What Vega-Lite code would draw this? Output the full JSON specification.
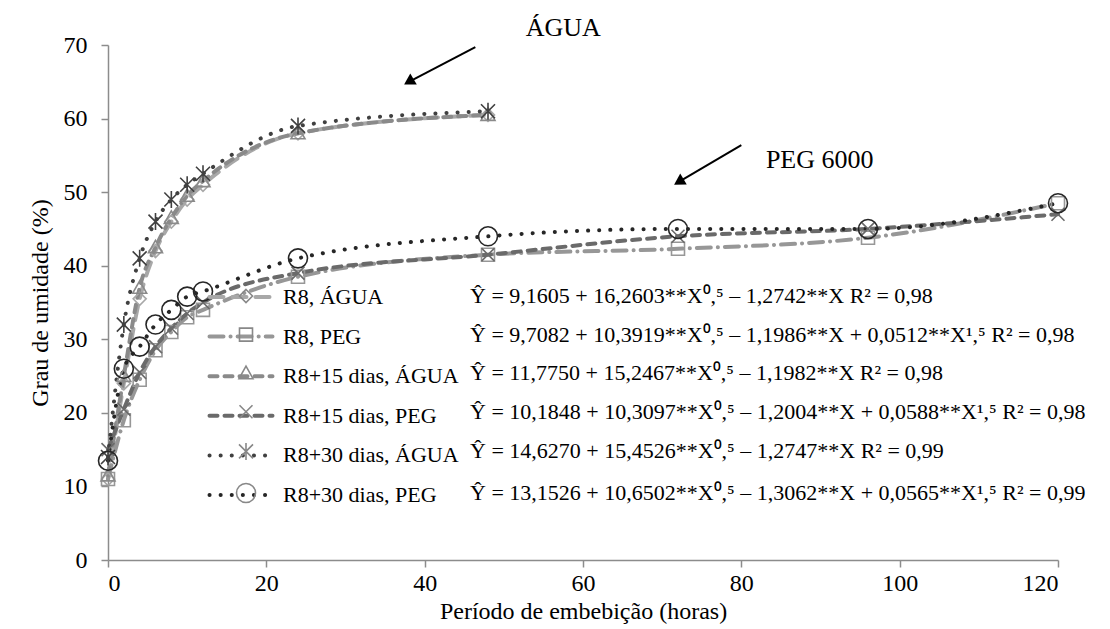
{
  "$schema": "https://vega.github.io/schema/vega-lite/v6.json",
  "width": 950,
  "height": 515,
  "autosize": {"type": "none"},
  "padding": {"left": 108, "top": 45, "right": 52, "bottom": 69},
  "background": "white",
  "config": {
    "view": {"stroke": null},
    "font": "Liberation Serif",
    "legend": {"padding": 0}
  },
  "datasets": {
    "medidas": [
      {"serie": "R8, ÁGUA", "horas": 0, "umidade": 11.0},
      {"serie": "R8, ÁGUA", "horas": 2, "umidade": 24.0},
      {"serie": "R8, ÁGUA", "horas": 4, "umidade": 35.5},
      {"serie": "R8, ÁGUA", "horas": 6, "umidade": 42.0},
      {"serie": "R8, ÁGUA", "horas": 8, "umidade": 46.0},
      {"serie": "R8, ÁGUA", "horas": 10, "umidade": 49.0},
      {"serie": "R8, ÁGUA", "horas": 12, "umidade": 51.0},
      {"serie": "R8, ÁGUA", "horas": 24, "umidade": 58.0},
      {"serie": "R8, ÁGUA", "horas": 48, "umidade": 60.5},
      {"serie": "R8, PEG", "horas": 0, "umidade": 11.0},
      {"serie": "R8, PEG", "horas": 2, "umidade": 19.0},
      {"serie": "R8, PEG", "horas": 4, "umidade": 24.5},
      {"serie": "R8, PEG", "horas": 6, "umidade": 28.5},
      {"serie": "R8, PEG", "horas": 8, "umidade": 31.0},
      {"serie": "R8, PEG", "horas": 10, "umidade": 33.0},
      {"serie": "R8, PEG", "horas": 12, "umidade": 34.0},
      {"serie": "R8, PEG", "horas": 24, "umidade": 38.5},
      {"serie": "R8, PEG", "horas": 48, "umidade": 41.5},
      {"serie": "R8, PEG", "horas": 72, "umidade": 42.3},
      {"serie": "R8, PEG", "horas": 96, "umidade": 43.8},
      {"serie": "R8, PEG", "horas": 120, "umidade": 48.5},
      {"serie": "R8+15 dias, ÁGUA", "horas": 0, "umidade": 11.5},
      {"serie": "R8+15 dias, ÁGUA", "horas": 2, "umidade": 25.0},
      {"serie": "R8+15 dias, ÁGUA", "horas": 4, "umidade": 37.0},
      {"serie": "R8+15 dias, ÁGUA", "horas": 6, "umidade": 42.5},
      {"serie": "R8+15 dias, ÁGUA", "horas": 8, "umidade": 46.5},
      {"serie": "R8+15 dias, ÁGUA", "horas": 10, "umidade": 49.5},
      {"serie": "R8+15 dias, ÁGUA", "horas": 12, "umidade": 51.5},
      {"serie": "R8+15 dias, ÁGUA", "horas": 24, "umidade": 58.0},
      {"serie": "R8+15 dias, ÁGUA", "horas": 48, "umidade": 60.5},
      {"serie": "R8+15 dias, PEG", "horas": 0, "umidade": 15.0},
      {"serie": "R8+15 dias, PEG", "horas": 2, "umidade": 20.5},
      {"serie": "R8+15 dias, PEG", "horas": 4, "umidade": 25.5},
      {"serie": "R8+15 dias, PEG", "horas": 6, "umidade": 29.0},
      {"serie": "R8+15 dias, PEG", "horas": 8, "umidade": 31.5},
      {"serie": "R8+15 dias, PEG", "horas": 10, "umidade": 33.5},
      {"serie": "R8+15 dias, PEG", "horas": 12, "umidade": 35.0},
      {"serie": "R8+15 dias, PEG", "horas": 24, "umidade": 39.0},
      {"serie": "R8+15 dias, PEG", "horas": 48, "umidade": 41.5},
      {"serie": "R8+15 dias, PEG", "horas": 72, "umidade": 44.0},
      {"serie": "R8+15 dias, PEG", "horas": 96, "umidade": 45.0},
      {"serie": "R8+15 dias, PEG", "horas": 120, "umidade": 47.0},
      {"serie": "R8+30 dias, ÁGUA", "horas": 0, "umidade": 14.0},
      {"serie": "R8+30 dias, ÁGUA", "horas": 2, "umidade": 32.0},
      {"serie": "R8+30 dias, ÁGUA", "horas": 4, "umidade": 41.0},
      {"serie": "R8+30 dias, ÁGUA", "horas": 6, "umidade": 46.0},
      {"serie": "R8+30 dias, ÁGUA", "horas": 8, "umidade": 49.0},
      {"serie": "R8+30 dias, ÁGUA", "horas": 10, "umidade": 51.0},
      {"serie": "R8+30 dias, ÁGUA", "horas": 12, "umidade": 52.5},
      {"serie": "R8+30 dias, ÁGUA", "horas": 24, "umidade": 59.0},
      {"serie": "R8+30 dias, ÁGUA", "horas": 48, "umidade": 61.0},
      {"serie": "R8+30 dias, PEG", "horas": 0, "umidade": 13.5},
      {"serie": "R8+30 dias, PEG", "horas": 2, "umidade": 26.0},
      {"serie": "R8+30 dias, PEG", "horas": 4, "umidade": 29.0},
      {"serie": "R8+30 dias, PEG", "horas": 6, "umidade": 32.0},
      {"serie": "R8+30 dias, PEG", "horas": 8, "umidade": 34.0},
      {"serie": "R8+30 dias, PEG", "horas": 10, "umidade": 35.8},
      {"serie": "R8+30 dias, PEG", "horas": 12, "umidade": 36.5},
      {"serie": "R8+30 dias, PEG", "horas": 24, "umidade": 41.0},
      {"serie": "R8+30 dias, PEG", "horas": 48, "umidade": 44.0},
      {"serie": "R8+30 dias, PEG", "horas": 72, "umidade": 45.0},
      {"serie": "R8+30 dias, PEG", "horas": 96, "umidade": 45.0},
      {"serie": "R8+30 dias, PEG", "horas": 120, "umidade": 48.5}
    ],
    "anotacoes": [
      {"texto": "ÁGUA", "x": 57.5, "y": 72.3},
      {"texto": "PEG 6000", "x": 89.9, "y": 54.4}
    ],
    "setas": [
      {"x0": 46.4, "y0": 69.7, "x1": 38.0, "y1": 65.0},
      {"x0": 80.0, "y0": 56.4, "x1": 72.1, "y1": 51.4}
    ]
  },
  "layer": [
    {
      "data": {"name": "medidas"},
      "mark": {"type": "line", "interpolate": "monotone", "strokeWidth": 4, "strokeCap": "round"},
      "encoding": {
        "x": {"field": "horas", "type": "quantitative", "scale": {"domain": [0, 120], "nice": false},
              "axis": {"values": [0, 20, 40, 60, 80, 100, 120], "grid": false,
                       "domainColor": "#8c8c8c", "domainWidth": 1.5, "tickColor": "#8c8c8c", "tickWidth": 1.5, "tickSize": 7,
                       "labelFont": "Liberation Serif", "labelFontSize": 24, "labelColor": "black", "labelPadding": 4,
                       "titleFont": "Liberation Serif", "titleFontSize": 24, "titleFontWeight": "normal", "titleColor": "black", "titlePadding": 4},
              "title": "Período de embebição (horas)"},
        "y": {"field": "umidade", "type": "quantitative", "scale": {"domain": [0, 70], "nice": false},
              "axis": {"values": [0, 10, 20, 30, 40, 50, 60, 70], "grid": false,
                       "domainColor": "#8c8c8c", "domainWidth": 1.5, "tickColor": "#8c8c8c", "tickWidth": 1.5, "tickSize": 7,
                       "labelFont": "Liberation Serif", "labelFontSize": 24, "labelColor": "black", "labelPadding": 14,
                       "titleFont": "Liberation Serif", "titleFontSize": 24, "titleFontWeight": "normal", "titleColor": "black", "titlePadding": 11},
              "title": "Grau de umidade (%)"},
        "stroke": {"field": "serie", "type": "nominal",
                   "scale": {"domain": ["R8, ÁGUA", "R8, PEG", "R8+15 dias, ÁGUA", "R8+15 dias, PEG", "R8+30 dias, ÁGUA", "R8+30 dias, PEG"],
                             "range": ["#a8a8a8", "#979797", "#8a8a8a", "#6a6a6a", "#404040", "#262626"]},
                   "legend": {
                         "title": null,
                         "orient": "none",
                         "legendX": 121,
                         "legendY": 240,
                         "symbolType": "M-3.15,0L3.15,0",
                         "symbolSize": 400,
                         "symbolStrokeWidth": 4,
                         "labelOffset": 30,
                         "labelFont": "Liberation Serif",
                         "labelFontSize": 22,
                         "labelColor": "black",
                         "labelLimit": 0,
                         "rowPadding": 16.6
                       }},
        "strokeDash": {"field": "serie", "type": "nominal",
                       "scale": {"domain": ["R8, ÁGUA", "R8, PEG", "R8+15 dias, ÁGUA", "R8+15 dias, PEG", "R8+30 dias, ÁGUA", "R8+30 dias, PEG"],
                                 "range": [[14, 9], [14, 7, 0.1, 7], [8, 7], [8, 7], [0.1, 11], [0.1, 11]]},
                       "legend": {
                         "title": null,
                         "orient": "none",
                         "legendX": 121,
                         "legendY": 240,
                         "symbolType": "M-3.15,0L3.15,0",
                         "symbolSize": 400,
                         "symbolStrokeWidth": 4,
                         "labelOffset": 30,
                         "labelFont": "Liberation Serif",
                         "labelFontSize": 22,
                         "labelColor": "black",
                         "labelLimit": 0,
                         "rowPadding": 16.6,
                         "encode": {"symbols": {"update": {"strokeCap": {"value": "round"}}}}
                       }}
      }
    },
    {
      "data": {"name": "medidas"},
      "transform": [
        {"lookup": "serie",
         "from": {"data": {"values": [
           {"serie": "R8, ÁGUA", "ordem": 1, "equacao": "Ŷ = 9,1605 + 16,2603**X⁰,⁵ – 1,2742**X  R² = 0,98"},
           {"serie": "R8, PEG", "ordem": 2, "equacao": "Ŷ = 9,7082 + 10,3919**X⁰,⁵ – 1,1986**X + 0,0512**X¹,⁵ R² = 0,98"},
           {"serie": "R8+15 dias, ÁGUA", "ordem": 3, "equacao": "Ŷ = 11,7750 + 15,2467**X⁰,⁵ – 1,1982**X  R² = 0,98"},
           {"serie": "R8+15 dias, PEG", "ordem": 4, "equacao": "Ŷ = 10,1848 + 10,3097**X⁰,⁵ – 1,2004**X + 0,0588**X¹,⁵  R² = 0,98"},
           {"serie": "R8+30 dias, ÁGUA", "ordem": 5, "equacao": "Ŷ = 14,6270 + 15,4526**X⁰,⁵ – 1,2747**X   R² = 0,99"},
           {"serie": "R8+30 dias, PEG", "ordem": 6, "equacao": "Ŷ = 13,1526 + 10,6502**X⁰,⁵ – 1,3062**X + 0,0565**X¹,⁵   R² = 0,99"}
         ]}, "key": "serie", "fields": ["ordem", "equacao"]}}
      ],
      "mark": {"type": "point", "filled": false, "size": 100, "strokeWidth": 1.6, "opacity": 1},
      "encoding": {
        "x": {"field": "horas", "type": "quantitative"},
        "y": {"field": "umidade", "type": "quantitative"},
        "stroke": {"field": "serie", "type": "nominal"},
        "shape": {"field": "equacao", "type": "nominal", "sort": {"field": "ordem", "op": "min"},
                  "scale": {"range": [
                    "M0,-1.3L1.3,0L0,1.3L-1.3,0Z",
                    "M-1.3,-1.3L1.3,-1.3L1.3,1.3L-1.3,1.3Z",
                    "M0,-1.4L1.4,1.1L-1.4,1.1Z",
                    "M-1.3,-1.3L1.3,1.3M-1.3,1.3L1.3,-1.3",
                    "M-1.4,-1.4L1.4,1.4M-1.4,1.4L1.4,-1.4M0,-1.7L0,1.7",
                    "M1.9,0A1.9,1.9,0,1,1,-1.9,0A1.9,1.9,0,1,1,1.9,0Z"
                  ]},
                  "legend": {
                    "title": null,
                    "orient": "none",
                    "legendX": 127,
                    "legendY": 240,
                    "symbolSize": 100,
                    "symbolStrokeWidth": 1.6,
                    "symbolFillColor": "white",
                    "labelOffset": 213,
                    "labelFont": "Liberation Serif",
                    "labelFontSize": 22,
                    "labelColor": "black",
                    "labelLimit": 0,
                    "rowPadding": 16.6,
                    "encode": {"symbols": {"update": {"stroke": {"signal": "range('stroke')[datum.index]"}, "fill": {"value": "white"}}}}
                  }}
      }
    },
    {
      "data": {"name": "setas"},
      "mark": {"type": "rule", "color": "black", "strokeWidth": 2},
      "encoding": {
        "x": {"field": "x0", "type": "quantitative"},
        "y": {"field": "y0", "type": "quantitative"},
        "x2": {"field": "x1"},
        "y2": {"field": "y1"}
      }
    },
    {
      "data": {"name": "setas"},
      "mark": {"type": "point", "shape": "triangle-up", "filled": true, "color": "black", "size": 160, "angle": 239, "opacity": 1},
      "encoding": {
        "x": {"field": "x1", "type": "quantitative"},
        "y": {"field": "y1", "type": "quantitative"}
      }
    },
    {
      "data": {"name": "anotacoes"},
      "mark": {"type": "text", "font": "Liberation Serif", "fontSize": 26, "color": "black", "align": "center", "baseline": "middle"},
      "encoding": {
        "x": {"field": "x", "type": "quantitative"},
        "y": {"field": "y", "type": "quantitative"},
        "text": {"field": "texto"}
      }
    }
  ]
}
